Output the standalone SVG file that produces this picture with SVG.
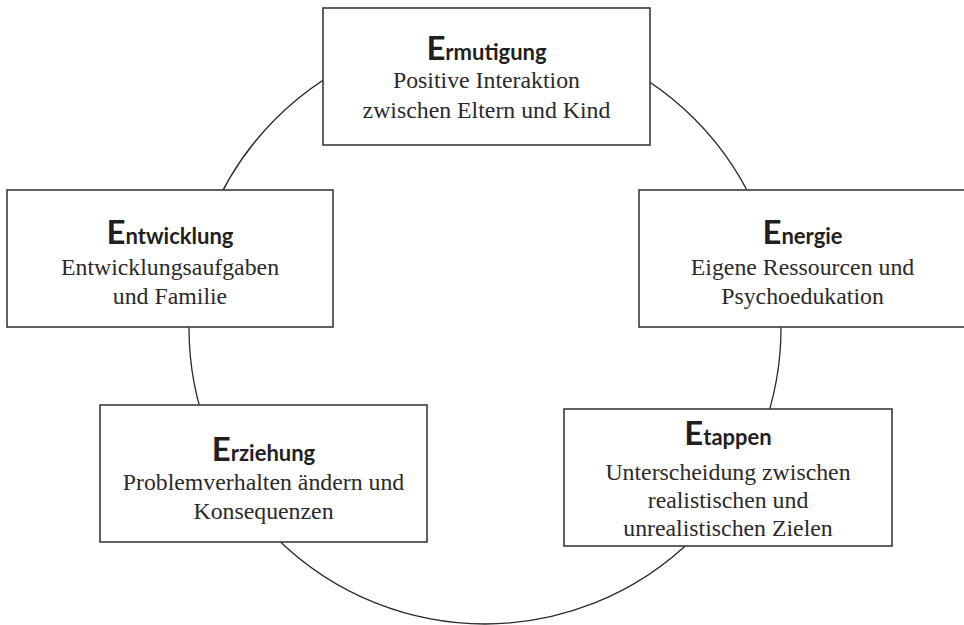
<svg xmlns="http://www.w3.org/2000/svg" width="964" height="625" viewBox="0 0 964 625">
<style>
.box{fill:#fff;stroke:#3a3a3a;stroke-width:1.6}
.ring{fill:none;stroke:#2a2a2a;stroke-width:1.3}
.h{font-family:Lato,"Open Sans","Liberation Sans",sans-serif;font-weight:700;font-size:22px;fill:#1f1f1f;text-anchor:middle}
.big{font-size:33px}
.t{font-family:"Liberation Serif","Times New Roman",serif;font-size:23.8px;fill:#2a2a2a;text-anchor:middle}
</style>
<rect width="964" height="625" fill="#fff"/>
<g id="connectors">
<circle class="ring" cx="485" cy="328" r="296"/>
</g>
<g id="ermutigung">
<rect class="box" x="323" y="8" width="327" height="137"/>
<text class="h" x="486.5" y="60"><tspan class="big">E</tspan>rmutigung</text>
<text class="t" x="486.5" y="88">Positive Interaktion</text>
<text class="t" x="486.5" y="118">zwischen Eltern und Kind</text>
</g>
<g id="entwicklung">
<rect class="box" x="7" y="190" width="326" height="137"/>
<text class="h" x="170" y="244"><tspan class="big">E</tspan>ntwicklung</text>
<text class="t" x="170" y="275">Entwicklungsaufgaben</text>
<text class="t" x="170" y="304">und Familie</text>
</g>
<g id="energie">
<rect class="box" x="639" y="190" width="327" height="137"/>
<text class="h" x="802.5" y="244"><tspan class="big">E</tspan>nergie</text>
<text class="t" x="802.5" y="275">Eigene Ressourcen und</text>
<text class="t" x="802.5" y="304">Psychoedukation</text>
</g>
<g id="erziehung">
<rect class="box" x="100" y="405" width="327" height="137"/>
<text class="h" x="263.5" y="461"><tspan class="big">E</tspan>rziehung</text>
<text class="t" x="263.5" y="490">Problemverhalten ändern und</text>
<text class="t" x="263.5" y="519">Konsequenzen</text>
</g>
<g id="etappen">
<rect class="box" x="564" y="409" width="328" height="137"/>
<text class="h" x="728" y="445"><tspan class="big">E</tspan>tappen</text>
<text class="t" x="728" y="480">Unterscheidung zwischen</text>
<text class="t" x="728" y="508">realistischen und</text>
<text class="t" x="728" y="536">unrealistischen Zielen</text>
</g>
</svg>
